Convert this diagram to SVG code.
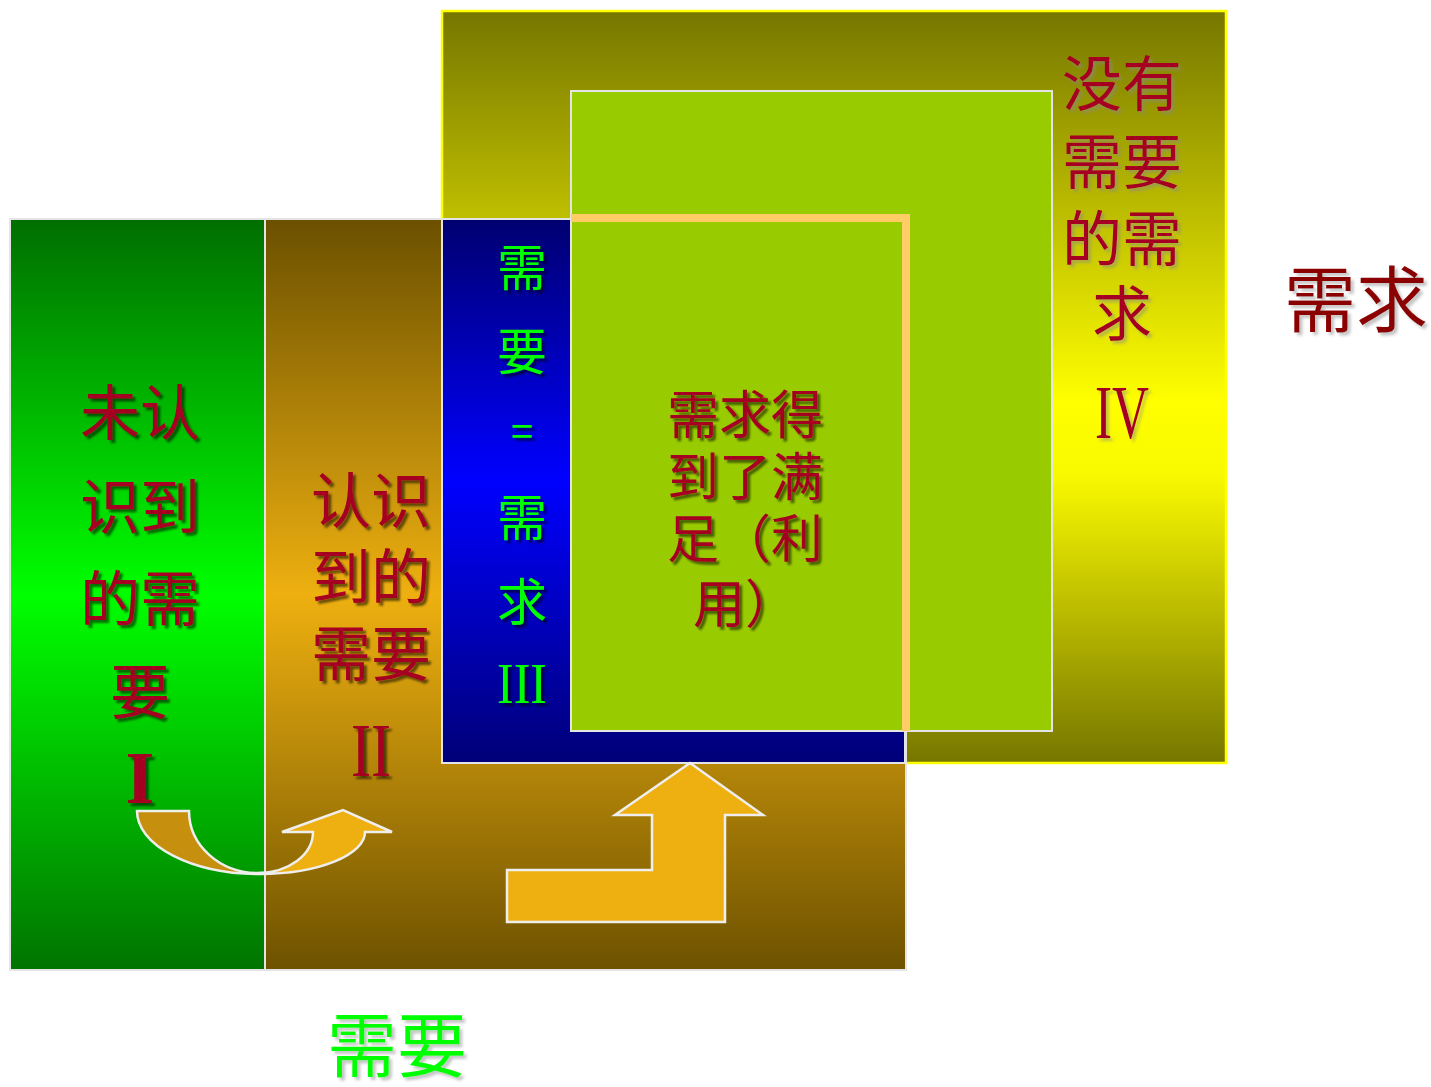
<svg xmlns="http://www.w3.org/2000/svg" width="1431" height="1087" viewBox="0 0 1431 1087">
<defs>
<linearGradient id="gYellow" x1="0" y1="0" x2="0" y2="1"><stop offset="0" stop-color="#767600"/><stop offset="0.52" stop-color="#ffff00"/><stop offset="0.62" stop-color="#f8f800"/><stop offset="1" stop-color="#767600"/></linearGradient>
<linearGradient id="gBrown" x1="0" y1="0" x2="0" y2="1"><stop offset="0" stop-color="#6b5000"/><stop offset="0.5" stop-color="#eeb010"/><stop offset="1" stop-color="#6e5200"/></linearGradient>
<linearGradient id="gGreen" x1="0" y1="0" x2="0" y2="1"><stop offset="0" stop-color="#006e00"/><stop offset="0.5" stop-color="#00ff00"/><stop offset="1" stop-color="#007400"/></linearGradient>
<linearGradient id="gBlue" x1="0" y1="0" x2="0" y2="1"><stop offset="0" stop-color="#000070"/><stop offset="0.48" stop-color="#0000ff"/><stop offset="1" stop-color="#000078"/></linearGradient>
<filter id="sh" x="-20%" y="-20%" width="140%" height="140%"><feDropShadow dx="3" dy="3" stdDeviation="1" flood-color="#000" flood-opacity="0.55"/></filter>
<filter id="shl" x="-20%" y="-20%" width="140%" height="140%"><feDropShadow dx="3" dy="3" stdDeviation="1.5" flood-color="#888" flood-opacity="0.5"/></filter>
</defs>
<style>
.cjk{font-family:"Noto Sans CJK SC",sans-serif;text-anchor:middle}
.red{fill:#a50021}
.grn{fill:#00ff00}
.rom{font-family:"Liberation Serif",serif;text-anchor:middle}
.box{stroke:#e4e4e4;stroke-width:2}
.arr{stroke:#eeeeee;stroke-width:2.5;stroke-linejoin:miter}
</style>
<rect width="1431" height="1087" fill="#ffffff"/>
<g id="demand-box">
<rect x="442" y="11" width="784" height="752" fill="url(#gYellow)" stroke="#ffff00" stroke-width="2.5"/>
<g filter="url(#shl)" class="cjk red" font-size="60">
<text x="1122" y="106">没有</text>
<text x="1122" y="184">需要</text>
<text x="1122" y="261">的需</text>
<text x="1122" y="336">求</text>
</g>
<text class="rom red" x="1122" y="438" font-size="76" textLength="54" lengthAdjust="spacingAndGlyphs" filter="url(#shl)">IV</text>
</g>
<g id="unrecognized-need">
<rect x="10" y="219" width="255" height="751" fill="url(#gGreen)" class="box"/>
<g filter="url(#sh)" class="cjk red" font-size="60">
<text x="140" y="435">未认</text>
<text x="140" y="529">识到</text>
<text x="140" y="621">的需</text>
<text x="140" y="714">要</text>
</g>
<text class="rom red" x="140" y="803" font-size="74" font-weight="bold" filter="url(#sh)">I</text>
</g>
<g id="recognized-need">
<rect x="265" y="219" width="641" height="751" fill="url(#gBrown)" class="box"/>
<g filter="url(#sh)" class="cjk red" font-size="60">
<text x="371" y="523">认识</text>
<text x="371" y="599">到的</text>
<text x="371" y="676">需要</text>
</g>
<text class="rom red" x="371" y="776" font-size="76" textLength="40" lengthAdjust="spacingAndGlyphs" filter="url(#sh)">II</text>
</g>
<g id="need-equals-demand">
<rect x="442" y="219" width="463" height="544" fill="url(#gBlue)" class="box"/>
<g filter="url(#sh)" class="cjk grn" font-size="50">
<text x="522" y="286">需</text>
<text x="522" y="370">要</text>
<text x="522" y="446" font-size="40">=</text>
<text x="522" y="536">需</text>
<text x="522" y="620">求</text>
</g>
<text class="rom grn" x="522" y="703" font-size="58" textLength="50" lengthAdjust="spacingAndGlyphs" filter="url(#sh)">III</text>
</g>
<g id="unneeded-demand">
<rect x="571" y="91" width="481" height="640" fill="#99cc00" class="box"/>
</g>
<g id="satisfied">
<polyline points="571,218 906,218 906,731" fill="none" stroke="#ffcc66" stroke-width="8"/>
<g filter="url(#sh)" class="cjk red" font-size="52">
<text x="745" y="434">需求得</text>
<text x="745" y="496">到了满</text>
<text x="745" y="558">足（利</text>
<text x="745" y="623">用）</text>
</g>
</g>
<g id="connectors">
<path class="arr" d="M137,811 L189,811 A69,62 0 0 0 258,873 L260,874 A123,63 0 0 1 137,811 Z" fill="#c68f0d"/>
<path class="arr" d="M258,873 A55,41 0 0 0 313,832 L282,832 L343,810 L392,832 L365,832 A105,42 0 0 1 260,874 Z" fill="#eeb010"/>
<polygon class="arr" points="507,870 652,870 652,815 615,815 690,763 763,815 725,815 725,922 507,922" fill="#eeb010"/>
</g>
<g id="label-demand">
<text class="cjk" x="1356" y="326" font-size="72" fill="#8b0000" filter="url(#shl)">需求</text>
</g>
<g id="label-need">
<text class="cjk grn" x="397" y="1072" font-size="70" filter="url(#shl)">需要</text>
</g>
</svg>
